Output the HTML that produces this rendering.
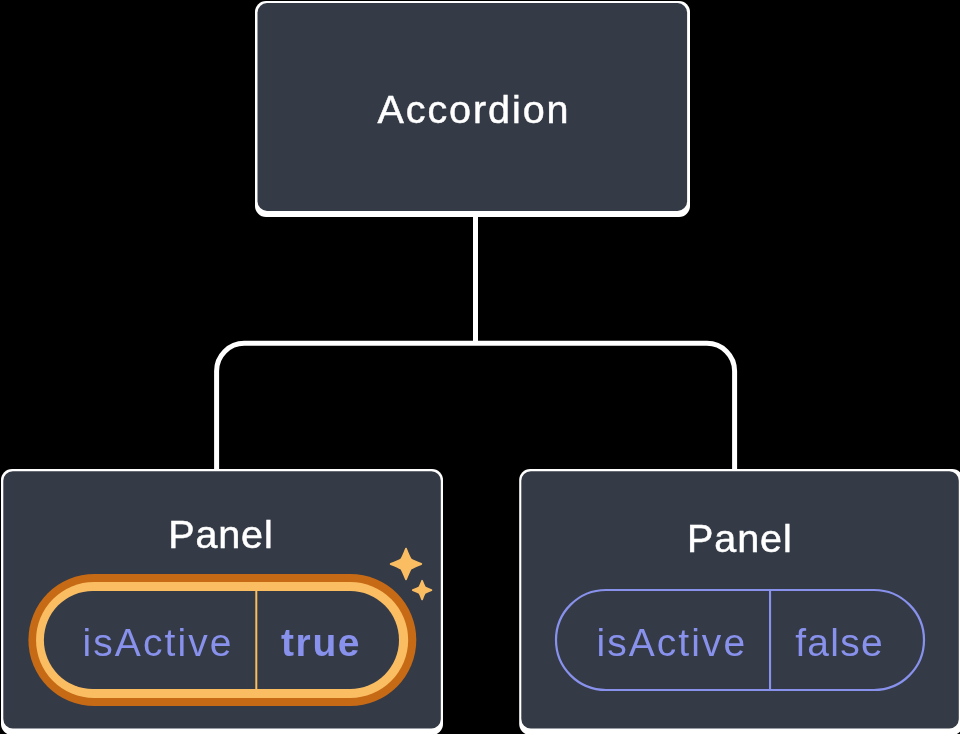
<!DOCTYPE html>
<html>
<head>
<meta charset="utf-8">
<style>
html,body{margin:0;padding:0;background:#000;overflow:hidden;}
svg{display:block;will-change:transform;}
text{font-family:"Liberation Sans",sans-serif;}
</style>
</head>
<body>
<svg width="960" height="734" viewBox="0 0 960 734">
<rect x="0" y="0" width="960" height="734" fill="#000"/>

<!-- connectors -->
<path d="M475.5 214 V343.3 M216.6 474 V371 A27.7 27.7 0 0 1 244.3 343.3 H706.9 A27.7 27.7 0 0 1 734.6 371 V474" fill="none" stroke="#fff" stroke-width="5"/>

<!-- Accordion box -->
<rect x="255" y="1" width="435" height="216" rx="11" ry="11" fill="#fff"/>
<rect x="257.5" y="3.1" width="429.6" height="207.8" rx="9.5" ry="9.5" fill="#343A46"/>
<text x="377.5" y="123.2" font-size="39.5" fill="#fff" stroke="#fff" stroke-width="0.5" textLength="191" lengthAdjust="spacing">Accordion</text>

<!-- Left panel -->
<rect x="1" y="469" width="442" height="266" rx="11" ry="11" fill="#fff"/>
<rect x="3.3" y="471.2" width="437.5" height="257.4" rx="9.5" ry="9.5" fill="#343A46"/>
<text x="168.2" y="548" font-size="39.5" fill="#fff" stroke="#fff" stroke-width="0.5" textLength="104.5" lengthAdjust="spacing">Panel</text>

<!-- active pill -->
<rect x="28.4" y="574" width="387.9" height="132" rx="66" ry="66" fill="#C76A15"/>
<rect x="36.05" y="582" width="372.1" height="116" rx="58" ry="58" fill="#FABD62"/>
<rect x="43.9" y="591" width="355.1" height="98" rx="49" ry="49" fill="#343A46"/>
<rect x="255.3" y="591" width="2" height="98" fill="#FABD62"/>
<text x="82.5" y="656" font-size="39" fill="#8891EC" textLength="149" lengthAdjust="spacing">isActive</text>
<text x="281" y="656" font-size="39" font-weight="bold" fill="#8891EC" textLength="78.5" lengthAdjust="spacing">true</text>

<!-- sparkles -->
<g fill="#FABD62" stroke="#FABD62" stroke-linejoin="round">
<path transform="translate(406 564)" stroke-width="2" d="M0,-15.2 C1.40,-11.60 3.00,-7.60 4.70,-4.70 C7.60,-3.00 11.60,-1.40 15.20,0.00 C11.60,1.40 7.60,3.00 4.70,4.70 C3.00,7.60 1.40,11.60 0.00,15.20 C-1.40,11.60 -3.00,7.60 -4.70,4.70 C-7.60,3.00 -11.60,1.40 -15.20,0.00 C-11.60,-1.40 -7.60,-3.00 -4.70,-4.70 C-3.00,-7.60 -1.40,-11.60 0.00,-15.20Z"/>
<path transform="translate(422.1 590.1)" stroke-width="1.8" d="M0,-9.3 C0.80,-7.10 1.80,-4.60 2.80,-2.80 C4.60,-1.80 7.10,-0.80 9.30,0.00 C7.10,0.80 4.60,1.80 2.80,2.80 C1.80,4.60 0.80,7.10 0.00,9.30 C-0.80,7.10 -1.80,4.60 -2.80,2.80 C-4.60,1.80 -7.10,0.80 -9.30,0.00 C-7.10,-0.80 -4.60,-1.80 -2.80,-2.80 C-1.80,-4.60 -0.80,-7.10 0.00,-9.30Z"/>
</g>

<!-- Right panel -->
<rect x="519.2" y="469" width="444" height="266" rx="11" ry="11" fill="#fff"/>
<rect x="521.3" y="471.2" width="437.5" height="257.4" rx="9.5" ry="9.5" fill="#343A46"/>
<text x="687" y="552" font-size="39.5" fill="#fff" stroke="#fff" stroke-width="0.5" textLength="104.8" lengthAdjust="spacing">Panel</text>

<rect x="556" y="590" width="368" height="100" rx="50" ry="50" fill="none" stroke="#8891EC" stroke-width="2.2"/>
<rect x="769" y="590" width="2.1" height="100" fill="#8891EC"/>
<text x="596.5" y="656" font-size="39" fill="#8891EC" textLength="148.6" lengthAdjust="spacing">isActive</text>
<text x="795.2" y="656" font-size="39" fill="#8891EC" textLength="87.5" lengthAdjust="spacing">false</text>
</svg>
</body>
</html>
